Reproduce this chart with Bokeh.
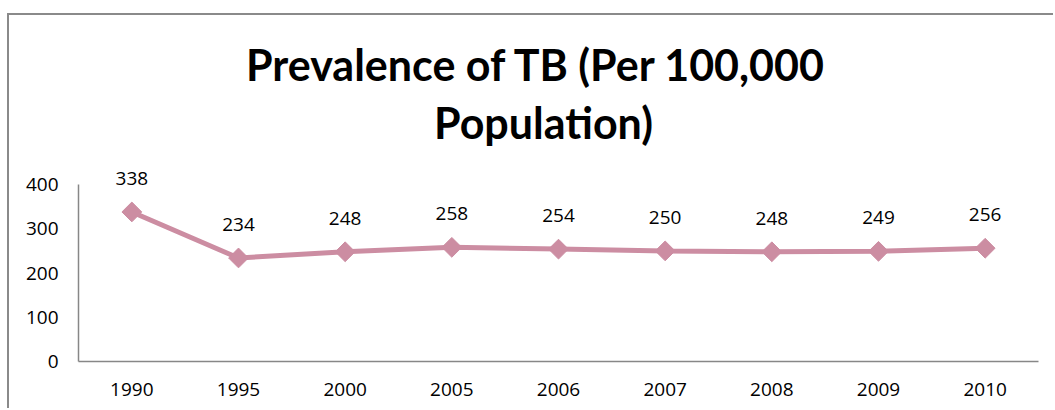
from bokeh.plotting import figure
from bokeh.models import FactorRange, Range1d, ColumnDataSource, LabelSet, Label, FixedTicker
from bokeh.core.properties import value
from bokeh.embed import file_html
from bokeh.resources import INLINE

years = ["1990", "1995", "2000", "2005", "2006", "2007", "2008", "2009", "2010"]
prevalence = [338, 234, 248, 258, 254, 250, 248, 249, 256]
y_ticks = [0, 100, 200, 300, 400]
title_lines = ["Prevalence of TB (Per 100,000", "Population)"]

PINK = "#CC8DA2"
AXIS = "#878787"
FRAME = "#8A8A8A"

src = ColumnDataSource(dict(x=years, y=prevalence, lab=[str(v) for v in prevalence]))

# canvas starts at page (9, 15) because of the CSS margin + border of the chart frame
p = figure(width=1046, height=395, x_range=FactorRange(factors=years, range_padding=0),
           y_range=Range1d(0, 782), output_backend="svg", toolbar_location=None,
           min_border_left=69, min_border_right=17, min_border_top=0, min_border_bottom=49)
p.styles = {"margin-left": "7px", "margin-top": "13px",
            "border-left": f"2px solid {FRAME}", "border-top": f"2px solid {FRAME}"}
p.outline_line_color = None
p.grid.visible = False
p.background_fill_color = "white"
p.border_fill_color = "white"

for ax in (p.xaxis[0], p.yaxis[0]):
    ax.axis_line_color = AXIS
    ax.axis_line_width = 1.5
    ax.major_tick_line_color = None
    ax.minor_tick_line_color = None
    ax.major_label_text_font = "Open Sans"
    ax.major_label_text_font_size = "19px"
    ax.major_label_text_color = "black"
p.yaxis[0].ticker = FixedTicker(ticks=y_ticks)
p.yaxis[0].bounds = (0, 400)
p.yaxis[0].major_label_standoff = 14
p.xaxis[0].major_label_standoff = 15

p.line(x="x", y="y", source=src, line_color=PINK, line_width=5)
p.scatter(x="x", y="y", source=src, marker="square", angle=0.785398, size=14,
          fill_color=PINK, line_color=PINK)

labels = LabelSet(x="x", y="y", text="lab", source=src, y_offset=27, text_align="center",
                  text_baseline="alphabetic", text_font=value("Open Sans"),
                  text_font_size=value("19px"), text_color="black")
p.add_layout(labels)

# title lines (screen units: relative to frame bottom-left, y up)
for txt, xc, yb in zip(title_lines, [458, 465], [297, 239]):
    p.add_layout(Label(x=xc, y=yb, x_units="screen", y_units="screen", text=txt,
                       text_align="center", text_baseline="alphabetic", text_font="Lato",
                       text_font_style="bold", text_font_size="43px", text_color="black"))

open("out.html", "w").write(file_html(p, INLINE))
